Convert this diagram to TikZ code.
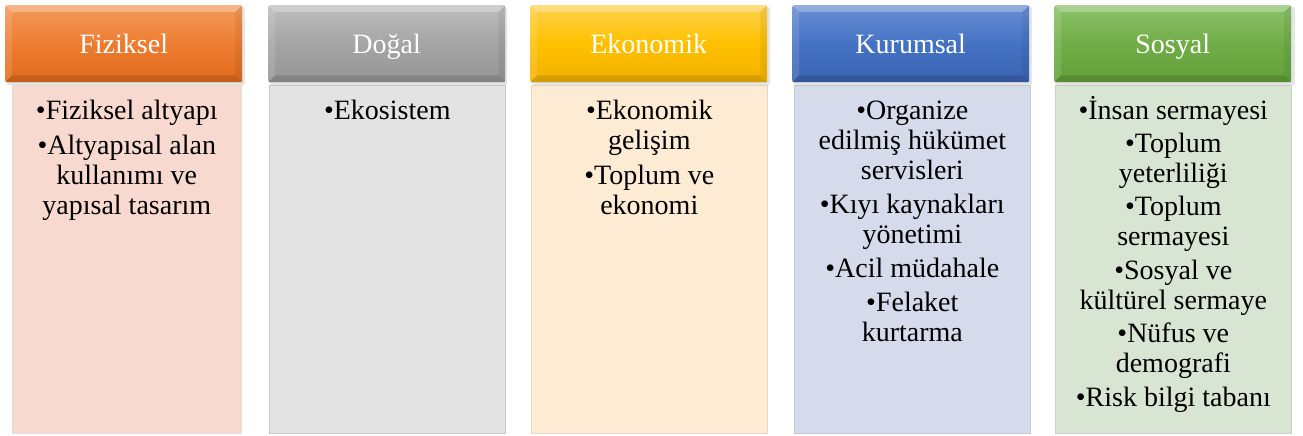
\documentclass[tikz,border=0pt]{standalone}
\usepackage{fontspec}
\setmainfont{Liberation Serif}
\definecolor{orH}{HTML}{ED7D31}\definecolor{orL}{HTML}{F49A5A}\definecolor{orD}{HTML}{E06A1C}\definecolor{orB}{HTML}{F8D9CF}
\definecolor{grH}{HTML}{A5A5A5}\definecolor{grL}{HTML}{BDBDBD}\definecolor{grD}{HTML}{959595}\definecolor{grB}{HTML}{E3E3E3}
\definecolor{ylH}{HTML}{FFC000}\definecolor{ylL}{HTML}{FFD24D}\definecolor{ylD}{HTML}{F2B200}\definecolor{ylB}{HTML}{FEEBD3}
\definecolor{blH}{HTML}{4472C4}\definecolor{blL}{HTML}{6A8FD3}\definecolor{blD}{HTML}{3A63B0}\definecolor{blB}{HTML}{D5DBEB}
\definecolor{gnH}{HTML}{70AD47}\definecolor{gnL}{HTML}{8DC26A}\definecolor{gnD}{HTML}{62A03A}\definecolor{gnB}{HTML}{D9E5D3}
\tikzset{
  hdr/.style={rounded corners=2pt, minimum width=237pt, minimum height=77pt, inner sep=0pt,
     anchor=north west, text=white, font=\fontsize{28}{30}\selectfont, text height=19pt, text depth=0pt},
  bodybox/.style={minimum width=236pt, minimum height=348pt, inner sep=0pt, anchor=north west, line width=0.6pt},
  itemtxt/.style={anchor=base, inner sep=0pt, font=\fontsize{28}{30}\selectfont},
  bevlight/.style={white, opacity=0.28},
  bevdark/.style={black, opacity=0.12},
  shadowbox/.style={fill=black, opacity=0.10, rounded corners=2pt}
}
\newcommand\bevel[1]{%
  \fill[bevlight] (#1.north west) -- (#1.north east) -- ([shift={(-7,7)}]#1.north east) -- ([shift={(7,7)}]#1.north west) -- cycle;
  \fill[white,opacity=0.12] (#1.north west) -- ([shift={(7,7)}]#1.north west) -- ([shift={(7,-7)}]#1.south west) -- (#1.south west) -- cycle;
  \fill[bevdark] (#1.south west) -- (#1.south east) -- ([shift={(-7,-7)}]#1.south east) -- ([shift={(7,-7)}]#1.south west) -- cycle;
  \fill[black,opacity=0.06] (#1.north east) -- ([shift={(-7,7)}]#1.north east) -- ([shift={(-7,-7)}]#1.south east) -- (#1.south east) -- cycle;
}
\begin{document}
\begin{tikzpicture}[x=1pt,y=-1pt]
\useasboundingbox (0,0) rectangle (1303,436);
\fill[white] (0,0) rectangle (1303,436);
% bodies
\node[bodybox, minimum width=229pt, fill=orB, draw=orB!85!black!50] (b1) at (12,85) {};
\node[bodybox, fill=grB, draw=grB!88!black] (b2) at (269,85) {};
\node[bodybox, fill=ylB, draw=ylB!92!black] (b3) at (531,85) {};
\node[bodybox, fill=blB, draw=blB!92!black] (b4) at (794,85) {};
\node[bodybox, fill=gnB, draw=gnB!92!black] (b5) at (1055,85) {};
% header shadows
\fill[shadowbox] (7,7) rectangle (245,85);
\fill[shadowbox] (270,7) rectangle (507,85);
\fill[shadowbox] (532,7) rectangle (770,85);
\fill[shadowbox] (794,7) rectangle (1032,85);
\fill[shadowbox] (1056,7) rectangle (1295,85);
% headers
\node[hdr, top color=orL, bottom color=orD, middle color=orH] (h1) at (5,5) {Fiziksel};
\node[hdr, top color=grL, bottom color=grD, middle color=grH] (h2) at (268,5) {Doğal};
\node[hdr, top color=ylL, bottom color=ylD, middle color=ylH] (h3) at (530,5) {Ekonomik};
\node[hdr, top color=blL, bottom color=blD, middle color=blH] (h4) at (792,5) {Kurumsal};
\node[hdr, top color=gnL, bottom color=gnD, middle color=gnH] (h5) at (1054,5) {Sosyal};
\bevel{h1}\bevel{h2}\bevel{h3}\bevel{h4}\bevel{h5}
% texts
\node[itemtxt] (t1) at (b1.north |- 0,119) {\begin{tabular}[t]{@{}c@{}}•Fiziksel altyapı\\[5pt]•Altyapısal alan\\kullanımı ve\\yapısal tasarım\end{tabular}};
\node[itemtxt] (t2) at (b2.north |- 0,119) {\begin{tabular}[t]{@{}c@{}}•Ekosistem\end{tabular}};
\node[itemtxt] (t3) at (b3.north |- 0,119) {\begin{tabular}[t]{@{}c@{}}•Ekonomik\\gelişim\\[5pt]•Toplum ve\\ekonomi\end{tabular}};
\node[itemtxt] (t4) at (b4.north |- 0,119) {\begin{tabular}[t]{@{}c@{}}•Organize\\edilmiş hükümet\\servisleri\\[4pt]•Kıyı kaynakları\\yönetimi\\[4pt]•Acil müdahale\\[4pt]•Felaket\\kurtarma\end{tabular}};
\node[itemtxt] (t5) at (b5.north |- 0,119) {\begin{tabular}[t]{@{}c@{}}•İnsan sermayesi\\[3.4pt]•Toplum\\yeterliliği\\[3.4pt]•Toplum\\sermayesi\\[3.4pt]•Sosyal ve\\kültürel sermaye\\[3.4pt]•Nüfus ve\\demografi\\[3.4pt]•Risk bilgi tabanı\end{tabular}};
\end{tikzpicture}
\end{document}
